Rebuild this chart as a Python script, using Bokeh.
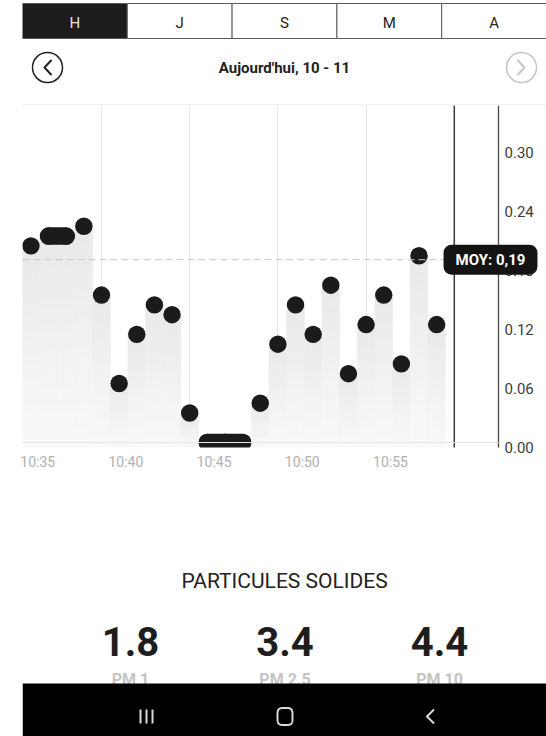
import numpy as np
from bokeh.plotting import figure
from bokeh.models import Range1d, Label, FixedTicker
from bokeh.layouts import column
from bokeh.embed import file_html
from bokeh.resources import INLINE
from bokeh.core.properties import value

# ---------------- data ----------------
tabs = ["H", "J", "S", "M", "A"]
active_tab = "H"
period_title = "Aujourd'hui, 10 - 11"
sample_times = ["10:34:37", "10:35:37", "10:36:37", "10:37:37", "10:38:37", "10:39:37",
                "10:40:37", "10:41:37", "10:42:37", "10:43:37", "10:44:37", "10:45:37",
                "10:46:37", "10:47:37", "10:48:37", "10:49:37", "10:50:37", "10:51:37",
                "10:52:37", "10:53:37", "10:54:37", "10:55:37", "10:56:37", "10:57:37"]
pm_values = [0.20, 0.21, 0.21, 0.22, 0.15, 0.06, 0.11, 0.14, 0.13, 0.03, 0.00, 0.00,
             0.00, 0.04, 0.10, 0.14, 0.11, 0.16, 0.07, 0.12, 0.15, 0.08, 0.19, 0.12]
average_value = 0.186
current_time = "10:58:37"
x_tick_labels = ["10:35", "10:40", "10:45", "10:50", "10:55"]
y_tick_values = [0.00, 0.06, 0.12, 0.18, 0.24, 0.30]
section_title = "PARTICULES SOLIDES"
pm_names = ["PM 1", "PM 2.5", "PM 10"]
pm_totals = ["1.8", "3.4", "4.4"]

FONT = "Roboto"
W = 546
LEFT = 22


def to_min(s):
    parts = [int(v) for v in s.split(":")]
    m = (parts[0] - 10) * 60 + parts[1]
    if len(parts) > 2:
        m += parts[2] / 60.0
    return m


def deco_fig(height, y_top, y_bottom):
    fig = figure(width=W, height=height, x_range=Range1d(LEFT, W),
                 y_range=Range1d(y_bottom, y_top), output_backend="svg",
                 toolbar_location=None, min_border_left=LEFT, min_border_right=0,
                 min_border_top=0, min_border_bottom=0,
                 x_axis_type=None, y_axis_type=None, outline_line_color=None)
    fig.grid.visible = False
    return fig


# ---------------- header ----------------
h = deco_fig(105, 0, 105)
edges = np.linspace(LEFT, W, len(tabs) + 1)
centers = (edges[:-1] + edges[1:]) / 2
fills = ["#1c1c1c" if t == active_tab else "#ffffff" for t in tabs]
tcols = ["#e4e4e4" if t == active_tab else "#222222" for t in tabs]
h.quad(left=edges[:-1], right=edges[1:], top=3, bottom=38, fill_color=fills,
       line_color="#5a5a5a", line_width=1)
h.text(x=centers, y=[22.5] * len(tabs), text=tabs, text_color=tcols,
       text_font=value(FONT), text_font_size="15px", text_align="center",
       text_baseline="middle")
h.text(x=[284], y=[67], text=[period_title], text_color="#222222",
       text_font=value(FONT), text_font_size="15px", text_font_style="bold",
       text_align="center", text_baseline="middle")
h.scatter(x=[47, 521], y=[67, 67], size=30, fill_color=None,
          line_color=["#222222", "#c6c6c6"], line_width=1.5)
h.multi_line(xs=[[50.5, 44, 50.5], [517.5, 524, 517.5]], ys=[[60, 67, 74], [60, 67, 74]],
             line_color=["#222222", "#c6c6c6"], line_width=2, line_join="round",
             line_cap="round")
h.segment(x0=[LEFT], y0=[104.5], x1=[W], y1=[104.5], line_color="#ececec", line_width=1.5)

# ---------------- chart ----------------
px_per_min = 17.64
px_per_unit = 983.0
x_start = to_min(x_tick_labels[0]) - (37.2 - LEFT) / px_per_min
x_end = x_start + (W - LEFT) / px_per_min
axis_x = x_start + (498 - LEFT) / px_per_min      # position of the value axis line
floor = -5 / px_per_unit                           # bottom of the drawing band
y_start = -11 / px_per_unit
y_end = 337 / px_per_unit

p = figure(width=W, height=455, x_range=Range1d(x_start, x_end),
           y_range=Range1d(y_start, y_end), output_backend="svg",
           toolbar_location=None, y_axis_location=None,
           min_border_left=LEFT, min_border_right=0, min_border_top=0,
           min_border_bottom=107, outline_line_color=None)

xs = np.array([to_min(t) for t in sample_times])
vals = np.array(pm_values)

# gradient bars (each bar split in vertical slices)
N = 24
top_rgb = np.array([0xe9, 0xe9, 0xe9], dtype=float)
bot_rgb = np.array([0xf9, 0xf9, 0xf9], dtype=float)
L, R, B, T, C = [], [], [], [], []
for x, v in zip(xs, vals):
    e = np.linspace(floor, v, N + 1)
    for j in range(N):
        fr = (j + 0.5) / N
        rgb = bot_rgb + (top_rgb - bot_rgb) * fr
        col = "#%02x%02x%02x" % tuple(int(round(c)) for c in rgb)
        L.append(x - 0.5); R.append(x + 0.5); B.append(e[j]); T.append(e[j + 1]); C.append(col)
p.quad(left=L, right=R, bottom=B, top=T, fill_color=C, line_color=C, line_width=0.6)

dot_color = "#1b1b1b"
same = np.array([i for i in range(len(vals) - 1) if vals[i] == vals[i + 1]], dtype=int)
if len(same):
    p.segment(x0=xs[same], y0=vals[same], x1=xs[same + 1], y1=vals[same + 1],
              line_color=dot_color, line_width=17.4, line_cap="round")
p.scatter(xs, vals, size=17.4, fill_color=dot_color, line_color=None)

# everything under the drawing band is cut off
p.quad(left=[x_start], right=[axis_x], bottom=[y_start], top=[floor],
       fill_color="#ffffff", line_color=None)

# grid every 5 samples
p.ygrid.grid_line_color = None
p.xgrid.ticker = FixedTicker(ticks=list(xs[4::5]))
p.xgrid.grid_line_color = "#e6e6e6"
p.xgrid.grid_line_width = 1

# x axis
p.xaxis.ticker = FixedTicker(ticks=[to_min(t) for t in x_tick_labels])
p.xaxis.major_label_overrides = {to_min(t): t for t in x_tick_labels}
p.xaxis.axis_line_color = None
p.xaxis.major_tick_line_color = None
p.xaxis.minor_tick_line_color = None
p.xaxis.major_tick_out = 0
p.xaxis.major_tick_in = 0
p.xaxis.major_label_text_color = "#b0b0b0"
p.xaxis.major_label_text_font = FONT
p.xaxis.major_label_text_font_size = "14px"
p.xaxis.major_label_standoff = 0

# baseline, current-time marker, value axis and its labels
p.segment(x0=[x_start], y0=[0], x1=[axis_x], y1=[0], line_color="#e4e4e4", line_width=1,
          level="overlay")
now_x = to_min(current_time)
p.segment(x0=[now_x, axis_x], y0=[floor, floor], x1=[now_x, axis_x], y1=[y_end, y_end],
          line_color=["#3a3a3a", "#4a4a4a"], line_width=[1.5, 1.3])
p.text(x=[axis_x] * len(y_tick_values), y=y_tick_values,
       text=["%.2f" % t for t in y_tick_values], x_offset=6, y_offset=5,
       text_color="#3c3c3c", text_font=value(FONT), text_font_size="15px",
       text_align="left", text_baseline="middle")

p.segment(x0=[x_start], y0=[average_value], x1=[axis_x], y1=[average_value],
          line_color="#c6c6c6", line_width=1, line_dash="7 4", level="overlay")
avg_txt = "MOY: " + ("%.2f" % average_value).replace(".", ",")
p.add_layout(Label(x=axis_x, y=average_value, x_offset=-8, text=avg_txt,
                   text_color="#ffffff", text_font=FONT, text_font_size="15px",
                   text_font_style="bold", text_align="center", text_baseline="middle",
                   background_fill_color="#141414", border_radius=8, padding=(12, 6),
                   level="overlay"))

# ---------------- footer ----------------
f = deco_fig(176, 560, 736)
f.text(x=[284], y=[580], text=[section_title], text_color="#222222", text_font=value(FONT),
       text_font_size="21px", text_align="center", text_baseline="middle")
cols = [130, 284.5, 439]
f.text(x=cols, y=[641] * 3, text=pm_totals, text_color="#1e1e1e", text_font=value(FONT),
       text_font_size="40px", text_font_style="bold", text_align="center",
       text_baseline="middle")
f.text(x=cols, y=[679] * 3, text=pm_names, text_color="#c4c4c4", text_font=value(FONT),
       text_font_size="16px", text_font_style="bold", text_align="center",
       text_baseline="middle")
f.quad(left=[LEFT], right=[W], top=[683], bottom=[740], fill_color="#000000", line_color=None)
nav_col = "#d8d8d8"
f.segment(x0=[140, 146, 152], y0=[709] * 3, x1=[140, 146, 152], y1=[723] * 3,
          line_color=nav_col, line_width=2)
th = np.linspace(0, 2 * np.pi, 80)
sx = 284.5 + 7.5 * np.sign(np.cos(th)) * np.abs(np.cos(th)) ** 0.5
sy = 716 + 8.5 * np.sign(np.sin(th)) * np.abs(np.sin(th)) ** 0.5
f.line(sx, sy, line_color=nav_col, line_width=2)
f.line([433.5, 426.5, 433.5], [709, 716, 723], line_color=nav_col, line_width=2,
       line_join="round")

layout = column(h, p, f)
open("out.html", "w").write(file_html(layout, INLINE))
